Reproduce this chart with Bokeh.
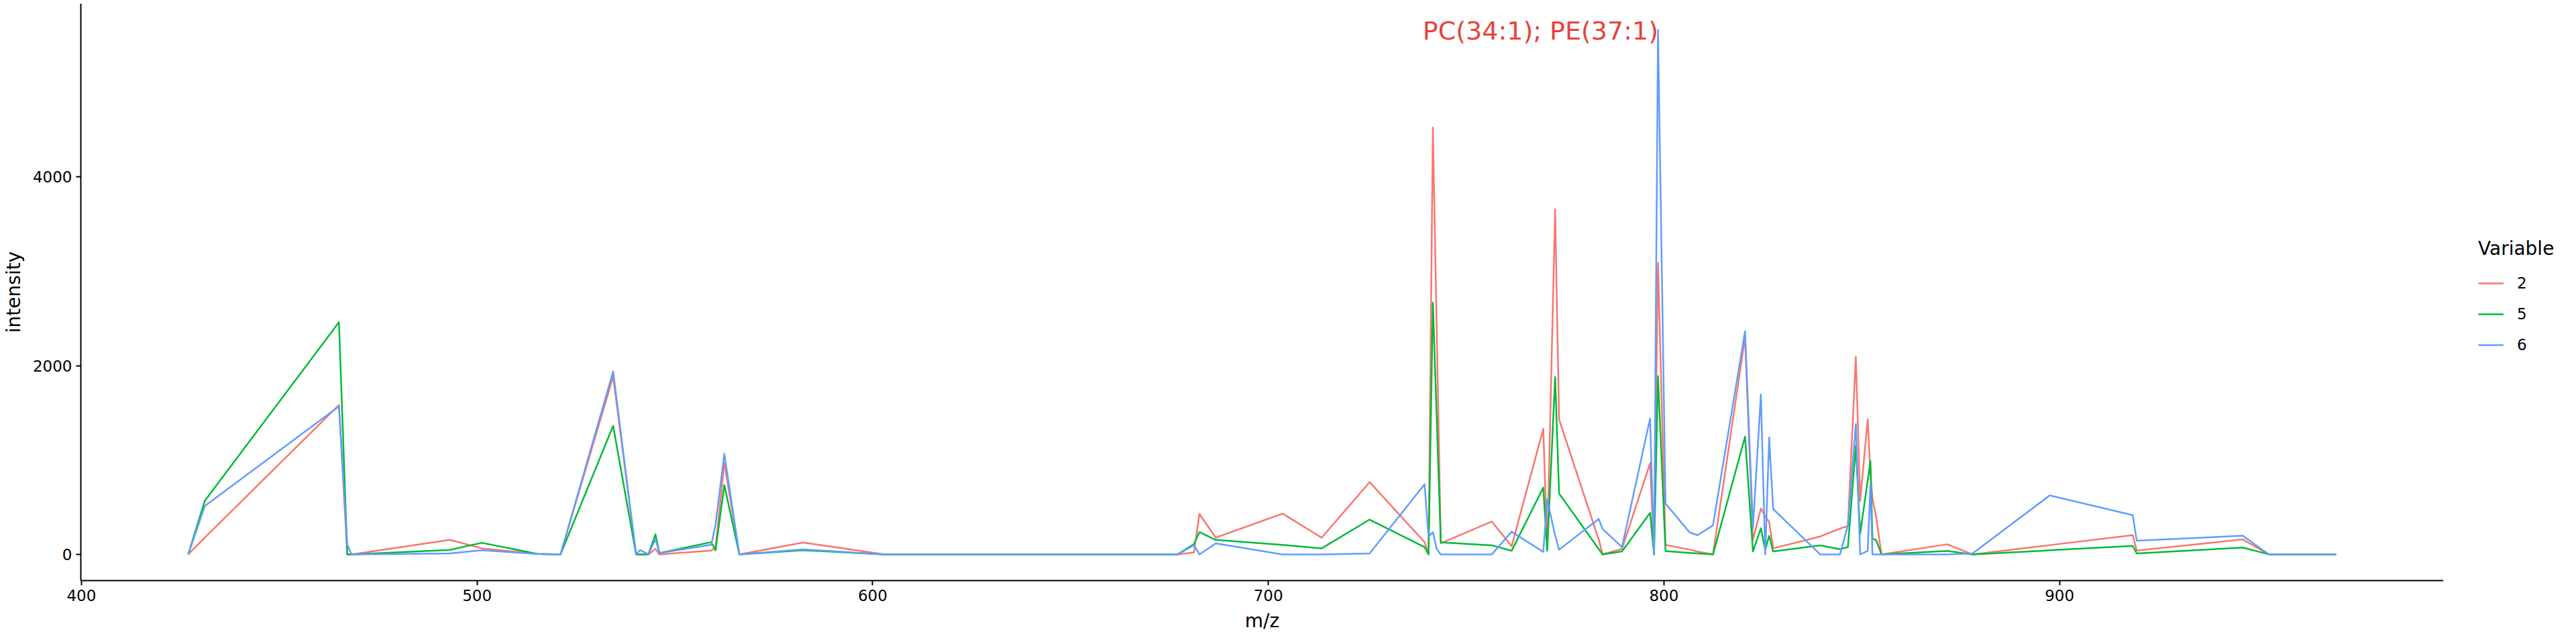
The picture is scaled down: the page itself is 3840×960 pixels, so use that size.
from bokeh.plotting import figure
from bokeh.layouts import row
from bokeh.models import Range1d, Legend, LegendItem, FixedTicker, Label
from bokeh.embed import file_html
from bokeh.resources import INLINE

# ---- data (m/z values shared by the three variables) ----
mz = [427.0, 431.2, 465.1, 467.2, 468.3, 493.1, 501.2, 515.3, 521.1, 534.4,
      540.2, 541.2, 543.3, 545.1, 546.1, 559.2, 560.3, 562.5, 566.3, 582.4,
      603.0, 677.1, 681.2, 682.6, 686.7, 703.6, 713.5, 725.6, 739.5, 740.5,
      741.6, 742.6, 743.6, 756.5, 761.5, 769.5, 770.5, 772.5, 773.5, 783.5,
      784.5, 789.4, 796.5, 797.5, 798.5, 800.4, 806.5, 808.5, 812.4, 820.5,
      822.5, 824.5, 825.6, 826.6, 827.6, 839.5, 844.5, 846.5, 848.5, 849.6,
      851.5, 852.2, 852.7, 853.6, 855.0, 871.6, 878.0, 897.5, 918.5, 919.5,
      946.3, 952.9, 969.9]

var2 = [0, 178, 1584, 0, 0, 154, 64, 5, 0, 1885,
        0, 0, 0, 59, 0, 40, 78, 972, 0, 126,
        0, 0, 21, 428, 177, 432, 177, 766, 130, 0,
        4524, 2320, 117, 348, 86, 1331, 80, 3658, 1429, 160,
        0, 58, 968, 0, 3090, 100, 50, 30, 0, 2300,
        154, 486, 403, 344, 64, 190, 273, 301, 2093, 569,
        1430, 850, 593, 403, 0, 107, 0, 98, 203, 40,
        159, 0, 0]

var5 = [0, 569, 2461, 0, 0, 47, 123, 5, 0, 1363,
        0, 0, 0, 213, 14, 130, 43, 735, 0, 43,
        0, 0, 110, 236, 154, 100, 64, 369, 77, 0,
        2670, 1400, 127, 96, 38, 708, 38, 1881, 645, 58,
        0, 31, 440, 0, 1889, 35, 15, 10, 0, 1249,
        31, 277, 47, 197, 31, 95, 55, 78, 1150, 220,
        783, 991, 166, 154, 0, 36, 0, 43, 90, 10,
        72, 0, 0]

var6 = [0, 514, 1569, 102, 0, 10, 43, 5, 0, 1939,
        0, 47, 0, 161, 14, 102, 320, 1067, 0, 52,
        0, 0, 97, 0, 117, 0, 0, 10, 743, 187,
        236, 54, 0, 0, 240, 27, 580, 200, 50, 375,
        270, 77, 1441, 0, 5560, 540, 232, 204, 308, 2366,
        284, 1695, 0, 1240, 481, 0, 0, 308, 1382, 0,
        36, 747, 0, 0, 0, 0, 10, 625, 416, 146,
        198, 0, 0]

series_names = ["2", "5", "6"]
series_values = [var2, var5, var6]
series_colors = ["#F8766D", "#00BA38", "#619CFF"]

x_ticks = [400, 500, 600, 700, 800, 900]
y_ticks = [0, 2000, 4000]

annotation_text = "PC(34:1); PE(37:1)"
annotation_mz = 768.8
annotation_intensity = 5550

# ---- ranges with ggplot-like 5% expansion ----
xmin, xmax = min(mz), max(mz)
xpad = 0.05 * (xmax - xmin)
ymax = max(max(v) for v in series_values)
ymin = 0
ypad = 0.05 * (ymax - ymin)

FONT = "DejaVu Sans"
TOTAL_W = 3824
TOTAL_H = 944
MAIN_W = 3642

p = figure(width=MAIN_W, height=TOTAL_H, output_backend="svg", toolbar_location=None,
           x_range=Range1d(xmin - xpad, xmax + xpad),
           y_range=Range1d(ymin - ypad, ymax + ypad),
           min_border_left=114, min_border_right=0,
           min_border_top=5, min_border_bottom=78)

p.outline_line_color = None
p.xgrid.grid_line_color = None
p.ygrid.grid_line_color = None
p.background_fill_color = "white"
p.border_fill_color = "white"

for name, vals, col in zip(series_names, series_values, series_colors):
    p.line(mz, vals, line_color=col, line_width=2.5, line_join="round")

for ax in (p.xaxis[0], p.yaxis[0]):
    ax.axis_line_color = "black"
    ax.axis_line_width = 2
    ax.major_tick_line_color = "black"
    ax.major_tick_line_width = 2
    ax.major_tick_out = 7
    ax.major_tick_in = 0
    ax.minor_tick_out = 0
    ax.minor_tick_in = 0
    ax.major_label_text_font = FONT
    ax.major_label_text_font_size = "23px"
    ax.major_label_text_color = "black"
    ax.axis_label_text_font = FONT
    ax.axis_label_text_font_size = "28px"
    ax.axis_label_text_font_style = "normal"
    ax.axis_label_text_color = "black"
    ax.major_label_standoff = 6

p.xaxis[0].ticker = FixedTicker(ticks=x_ticks)
p.yaxis[0].ticker = FixedTicker(ticks=y_ticks)
p.xaxis[0].axis_label = "m/z"
p.yaxis[0].axis_label = "intensity"
p.xaxis[0].axis_label_standoff = 10
p.yaxis[0].axis_label_standoff = 9

lab = Label(x=annotation_mz, y=annotation_intensity, text=annotation_text,
            text_align="center", text_baseline="alphabetic",
            text_font=FONT, text_font_size="38px", text_color="#E8413A")
p.add_layout(lab)

# ---- legend in a side figure; its view range excludes the data so only keys show ----
pl = figure(width=TOTAL_W - MAIN_W, height=TOTAL_H, output_backend="svg",
            toolbar_location=None, x_axis_type=None, y_axis_type=None,
            x_range=Range1d(0, 1), y_range=Range1d(0, 1),
            min_border_left=0, min_border_right=0, min_border_top=0, min_border_bottom=0)
pl.outline_line_color = None
pl.xgrid.grid_line_color = None
pl.ygrid.grid_line_color = None
pl.background_fill_color = "white"
pl.border_fill_color = "white"

key_renderers = [pl.line(mz, vals, line_color=col, line_width=2.5)
                 for vals, col in zip(series_values, series_colors)]

legend = Legend(items=[LegendItem(label=n, renderers=[r]) for n, r in zip(series_names, key_renderers)],
                title="Variable", orientation="vertical", location=(52, 328))
legend.title_text_font = FONT
legend.title_text_font_size = "28px"
legend.title_text_font_style = "normal"
legend.title_text_color = "black"
legend.title_standoff = 12
legend.label_text_font = FONT
legend.label_text_font_size = "23px"
legend.label_text_color = "black"
legend.label_width = 10
legend.glyph_width = 38
legend.glyph_height = 46
legend.label_height = 46
legend.spacing = 0
legend.label_standoff = 20
legend.padding = 4
legend.margin = 0
legend.border_line_color = None
legend.background_fill_alpha = 0
pl.add_layout(legend)

layout = row(p, pl, spacing=0)

open("out.html", "w").write(file_html(layout, INLINE))
